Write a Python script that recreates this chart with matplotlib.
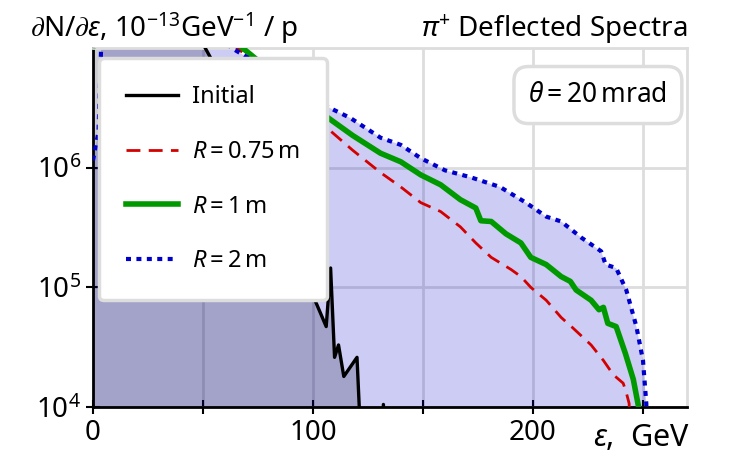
import numpy as np
import matplotlib
matplotlib.use("Agg")
import matplotlib.pyplot as plt
from matplotlib.ticker import MultipleLocator, FuncFormatter, NullLocator

plt.rcParams['font.family'] = ['Noto Sans', 'DejaVu Sans']
plt.rcParams['mathtext.fontset'] = 'custom'
plt.rcParams['mathtext.rm'] = 'Noto Sans'
plt.rcParams['mathtext.it'] = 'Noto Sans:italic'
plt.rcParams['mathtext.bf'] = 'Noto Sans:bold'

# spectra (GeV, counts)
x_init = [0, 20, 40, 51, 60, 70, 80, 90, 97, 99.8, 106, 108, 109.8, 111.6, 114, 120, 123.5,
          130, 132, 134, 200, 270]
y_init = [3e7, 5e7, 2.5e7, 1e7, 5e6, 2e6, 8e5, 3e5, 1.5e5, 8.7e4, 4.7e4, 1.45e5, 2.6e4,
          3.3e4, 1.8e4, 2.6e4, 1e3, 1e3, 1.05e4, 1e3, 1e3, 1e3]

x_r075 = [0, 20, 40, 55, 65.6, 75, 85, 95, 107, 118, 130.7, 139.9, 149, 158, 167, 174,
          181, 190, 194.5, 199, 206, 212.8, 218, 226.4, 232, 236.5, 241, 242.4, 243.7, 245, 270]
y_r075 = [6e7, 5e7, 2.6e7, 1.45e7, 1.0e7, 7.1e6, 4.9e6, 3.4e6, 2.1e6, 1.4e6, 9.1e5,
          6.9e5, 5.1e5, 4.3e5, 3.2e5, 2.35e5, 1.78e5, 1.41e5, 1.23e5, 1.0e5, 7.8e4, 5.6e4,
          4.6e4, 3.3e4, 2.45e4, 1.86e4, 1.58e4, 1.32e4, 1.07e4, 1e3, 1e3]

x_r1 = [0, 3, 20, 40, 55, 68, 80, 90, 100, 106.6, 118, 130.7, 139.9, 149, 158, 167, 174,
        176.3, 181, 187.7, 194.5, 199, 206, 212.8, 217, 219.6, 226.4, 230, 232, 234, 237.8,
        242, 245.6, 248, 250, 270]
y_r1 = [1.05e7, 8e7, 6e7, 3e7, 1.6e7, 1.0e7, 6.6e6, 4.7e6, 3.3e6, 2.63e6, 1.86e6, 1.32e6,
        1.12e6, 8.7e5, 7.2e5, 5.4e5, 4.6e5, 3.6e5, 3.55e5, 2.8e5, 2.35e5, 1.78e5, 1.55e5,
        1.23e5, 1.12e5, 9.5e4, 7.8e4, 6.5e4, 6.8e4, 5.0e4, 4.7e4, 2.8e4, 1.7e4, 1.0e4, 1e3, 1e3]

x_r2 = [0, 2.5, 5, 20, 40, 55, 63, 75, 85, 95, 107, 117, 130.7, 139.9, 149, 160, 171.8, 185,
        196.8, 206, 212.8, 222, 231, 233, 237.8, 242.4, 247, 250, 251.5, 253, 270]
y_r2 = [1.15e6, 2.0e6, 6e7, 4e7, 2.2e7, 1.4e7, 1.0e7, 7.4e6, 5.7e6, 4.4e6, 3.2e6, 2.6e6,
        1.78e6, 1.55e6, 1.2e6, 9.5e5, 8.3e5, 6.9e5, 5.1e5, 3.9e5, 3.55e5, 2.6e5, 2.0e5,
        1.55e5, 1.45e5, 9.5e4, 4.7e4, 2.45e4, 1.07e4, 1e3, 1e3]

fig = plt.figure(figsize=(7.38, 4.58), dpi=100)
ax = fig.add_axes([93/738, 51/458, 594/738, 359/458])

ax.fill_between(x_r2, y_r2, 1, color=(0, 0, 0.8), alpha=0.2, lw=0, zorder=1)
ax.fill_between(x_init, y_init, 1, color=(0, 0, 0.14), alpha=0.2, lw=0, zorder=1.1)

ax.plot(x_init, y_init, color='black', lw=2.4, label='Initial', zorder=3)
ax.plot(x_r075, y_r075, color='#d40000', lw=2, ls=(0, (5, 3)), label='$R = 0.75\\,$m', zorder=3)
ax.plot(x_r1, y_r1, color='#009a00', lw=4, label='$R = 1\\,$m', zorder=3)
ax.plot(x_r2, y_r2, color='#0000cc', lw=3, ls=(0, (1.2, 1.3)), label='$R = 2\\,$m', zorder=3)

ax.set_yscale('log')
ax.set_ylim(1e4, 1e7)
ax.set_xlim(0, 270)
ax.set_yticks([1e4, 1e5, 1e6])
ax.yaxis.set_minor_locator(NullLocator())
ax.xaxis.set_major_locator(MultipleLocator(50))
ax.xaxis.set_major_formatter(FuncFormatter(lambda v, p: '%d' % v if v % 100 == 0 else ''))

ax.set_axisbelow(True)
ax.grid(True, color='#dddddd', lw=2)
for s in ['top', 'right']:
    ax.spines[s].set_color('#dddddd')
    ax.spines[s].set_linewidth(2)
for s in ['left', 'bottom']:
    ax.spines[s].set_color('black')
    ax.spines[s].set_linewidth(2)
ax.tick_params(direction='inout', length=10, width=1.5, labelsize=20)

leg = ax.legend(loc='upper left', bbox_to_anchor=(0.01, 0.972), borderaxespad=0, fontsize=17,
                handlelength=2.2, labelspacing=1.3, borderpad=1.15, handletextpad=0.6,
                fancybox=True, framealpha=1, edgecolor='#dddddd')
leg.get_frame().set_linewidth(2.5)

ax.text(0.85, 0.869, '$\\theta = 20\\,$mrad', transform=ax.transAxes, ha='center', va='center',
        fontsize=19, bbox=dict(boxstyle='round,pad=0.55', fc='white', ec='#dddddd', lw=2.5))

ax.set_title('$\\pi^{+}$ Deflected Spectra', loc='right', fontsize=20, pad=8)
fig.text(30/738, 1 - 37/458, '$\\partial$N/$\\partial\\varepsilon$, 10$^{-13}$GeV$^{-1}$ / p',
         fontsize=20, ha='left', va='baseline')
ax.text(1.005, -0.045, '$\\varepsilon$,  GeV', transform=ax.transAxes, ha='right', va='top',
        fontsize=22)

fig.savefig('out.png', dpi=100)
